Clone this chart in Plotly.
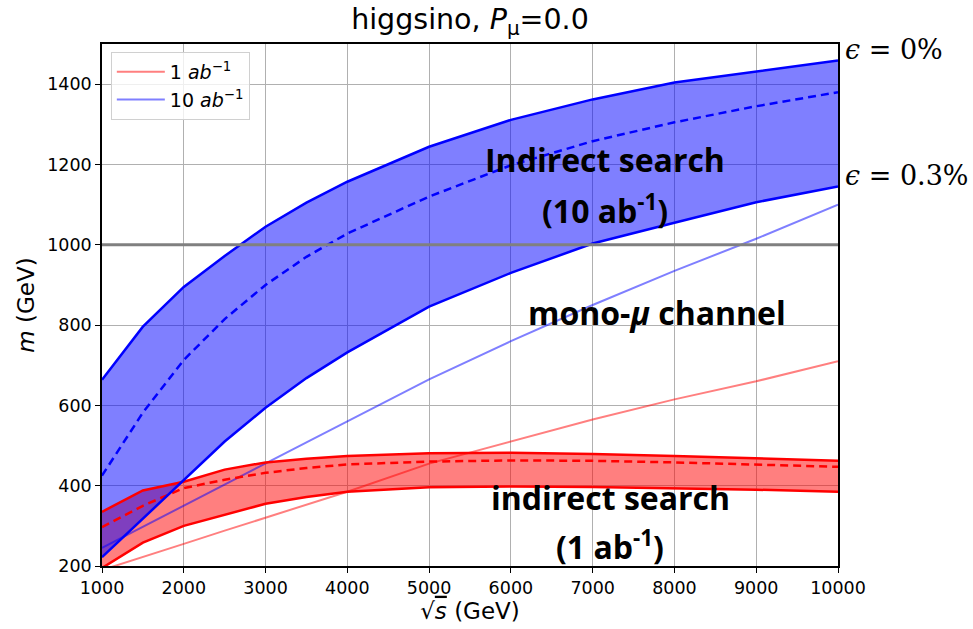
import plotly.graph_objects as go

# centre-of-mass energies (GeV)
sqrt_s = [1000, 1500, 2000, 2500, 3000, 3500, 4000, 5000, 6000, 7000, 8000, 9000, 10000]

# indirect search, 10 ab^-1: epsilon = 0% (upper), central (dashed), epsilon = 0.3% (lower)
blue_upper = [664, 796, 895, 972, 1045, 1105, 1157, 1244, 1311, 1362, 1404, 1432, 1459]
blue_mid = [425, 582, 713, 815, 900, 970, 1028, 1120, 1198, 1258, 1305, 1345, 1380]
blue_lower = [222, 318, 414, 510, 594, 668, 732, 846, 930, 1003, 1055, 1106, 1145]

# indirect search, 1 ab^-1
red_upper = [335, 388, 410, 440, 458, 467, 474, 481, 482, 479, 474, 468, 462]
red_mid = [297, 350, 394, 415, 432, 444, 453, 460, 463, 462, 458, 453, 447]
red_lower = [195, 258, 300, 327, 355, 372, 385, 396, 398, 397, 394, 390, 385]

# mono-mu channel reach
mono_10 = [245, 298, 350, 403, 455, 508, 560, 665, 760, 850, 935, 1015, 1100]
mono_1 = [190, 222, 255, 288, 320, 353, 385, 455, 510, 565, 615, 660, 710]

x_ticks = [1000, 2000, 3000, 4000, 5000, 6000, 7000, 8000, 9000, 10000]
y_ticks = [200, 400, 600, 800, 1000, 1200, 1400]

RED = "#ff0000"
BLUE = "#0000ff"

fig = go.Figure()


def band(lower, upper, color):
    fig.add_trace(go.Scatter(
        x=sqrt_s + sqrt_s[::-1], y=upper + lower[::-1],
        fill="toself", fillcolor=color, mode="lines",
        line=dict(width=0), hoverinfo="skip", showlegend=False))


band(red_lower, red_upper, "rgba(255,0,0,0.5)")
band(blue_lower, blue_upper, "rgba(0,0,255,0.5)")


def curve(y, color, width=2.5, dash="solid", name=None, legend=False):
    fig.add_trace(go.Scatter(
        x=sqrt_s, y=y, mode="lines", name=name, showlegend=legend,
        line=dict(color=color, width=width, dash=dash)))


curve(mono_1, "rgba(255,0,0,0.5)", 2, name="1 <i>ab</i><sup>−1</sup>", legend=True)
curve(mono_10, "rgba(0,0,255,0.5)", 2, name="10 <i>ab</i><sup>−1</sup>", legend=True)

for ys in (red_upper, red_lower):
    curve(ys, RED)
curve(red_mid, RED, dash="8px,5px")
for ys in (blue_upper, blue_lower):
    curve(ys, BLUE)
curve(blue_mid, BLUE, dash="8px,5px")

# reference mass line
fig.add_trace(go.Scatter(x=[1000, 10000], y=[1000, 1000], mode="lines",
                         line=dict(color="#808080", width=3.2), showlegend=False))

# region labels, one annotation per line
label_font = dict(family="Open Sans", size=32, color="black")
region_labels = [
    (7151, 1212, "<b>Indirect search</b>"),
    (7151, 1090, "<b>(10 ab<sup>-1</sup>)</b>"),
    (7787, 831, "<b>mono-<i>μ</i> channel</b>"),
    (7212, 370, "<b>indirect search</b>"),
    (7212, 253, "<b>(1 ab<sup>-1</sup>)</b>"),
]
for lx, ly, txt in region_labels:
    fig.add_annotation(x=lx, y=ly, text=txt, showarrow=False, font=label_font)

eps_font = dict(family="DejaVu Serif", size=27, color="black")
fig.add_annotation(x=1.0, xshift=5, y=1486, xref="paper", yref="y", xanchor="left",
                   text="<i>ϵ</i> = 0%", showarrow=False, font=eps_font)
fig.add_annotation(x=1.0, xshift=5, y=1172, xref="paper", yref="y", xanchor="left",
                   text="<i>ϵ</i> = 0.3%", showarrow=False, font=eps_font)

axis_common = dict(showline=True, linecolor="black", linewidth=1.5, mirror=True,
                   ticks="outside", ticklen=5, tickcolor="black",
                   showgrid=True, gridcolor="#b0b0b0", gridwidth=1, zeroline=False,
                   tickfont=dict(family="DejaVu Sans", size=17.5, color="black"))

fig.update_xaxes(range=[1000, 10000], tickvals=x_ticks,
                 ticktext=[str(v) for v in x_ticks],
                 title=dict(text="√<span style='text-decoration:overline'><i>s</i></span> (GeV)",
                            standoff=4,
                            font=dict(family="DejaVu Sans", size=23, color="black")),
                 **axis_common)
fig.update_yaxes(range=[200, 1500], tickvals=y_ticks,
                 ticktext=[str(v) for v in y_ticks],
                 title=dict(text="<i>m</i> (GeV)", standoff=6,
                            font=dict(family="DejaVu Sans", size=23, color="black")),
                 **axis_common)

fig.update_layout(
    width=973, height=629,
    margin=dict(l=102, r=135, t=44, b=63),
    plot_bgcolor="white", paper_bgcolor="white",
    title=dict(text="higgsino, <i>P</i><sub>μ</sub>=0.0", x=0.483, xanchor="center",
               y=0.985, yanchor="top",
               font=dict(family="DejaVu Sans", size=28.5, color="black")),
    legend=dict(x=0.012, y=0.985, xanchor="left", yanchor="top",
                bgcolor="rgba(255,255,255,0.8)", bordercolor="#d0d0d0", borderwidth=1,
                itemwidth=48,
                font=dict(family="DejaVu Sans", size=19, color="black")),
)

fig.write_html("out.html")
